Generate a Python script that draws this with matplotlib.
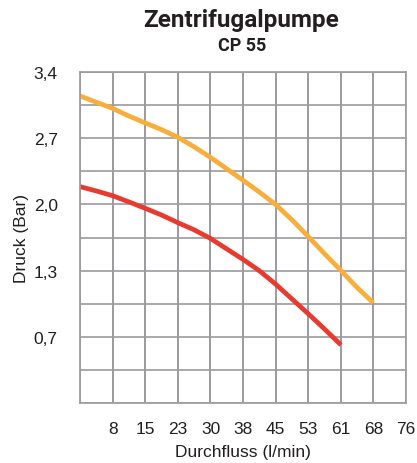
import numpy as np
import matplotlib.pyplot as plt
from matplotlib.ticker import FixedLocator

# Durchfluss (l/min) und Druck (bar)
flow_orange = [0, 3.8, 7.6, 11.4, 15.1, 18.9, 22.7, 26.5, 30.3, 34.1,
               37.9, 41.6, 45.4, 49.2, 53.0, 56.8, 60.6, 64.3, 68.1]
druck_orange = [3.20, 3.135, 3.07, 2.99, 2.92, 2.85, 2.77, 2.67, 2.56, 2.44,
                2.32, 2.20, 2.07, 1.91, 1.735, 1.555, 1.38, 1.205, 1.045]

flow_red = [0, 3.8, 7.6, 11.4, 15.1, 18.9, 22.7, 26.5, 30.3, 34.1,
            37.9, 41.6, 45.4, 49.2, 53.0, 56.8, 60.6]
druck_red = [2.255, 2.21, 2.16, 2.095, 2.03, 1.96, 1.88, 1.805, 1.715, 1.605,
             1.495, 1.38, 1.24, 1.085, 0.93, 0.77, 0.605]

x_ticks = [7.6, 15.1, 22.7, 30.3, 37.9, 45.4, 53.0, 60.6, 68.1, 75.7]
x_tick_labels = ['8', '15', '23', '30', '38', '45', '53', '61', '68', '76']
y_ticks = [0.69, 1.38, 2.07, 2.76, 3.45]
y_tick_labels = ['0,7', '1,3', '2,0', '2,7', '3,4']

plt.rcParams['font.family'] = ['Liberation Sans', 'DejaVu Sans']
txt_col = '#231f20'

fig = plt.figure(figsize=(4.17, 4.64), dpi=100)
ax = fig.add_axes([80 / 417, 1 - 404 / 464, 326 / 417, 331 / 464])

grid_col = '#9b9b9f'
ax.set_xlim(0, 75.7)
ax.set_ylim(0, 3.45)

# Gitter: 10 x 10 Felder (major + minor, damit keine Linie fehlt)
ax.xaxis.set_minor_locator(FixedLocator(np.linspace(0, 75.7, 11)))
ax.yaxis.set_minor_locator(FixedLocator(np.linspace(0, 3.45, 11)))
ax.grid(True, which='both', color=grid_col, linewidth=1.2)
ax.tick_params(which='both', length=0)
ax.set_axisbelow(True)
for s in ax.spines.values():
    s.set_color(grid_col)
    s.set_linewidth(1.2)

ax.set_xticks(x_ticks)
ax.set_xticklabels(x_tick_labels)
ax.set_yticks(y_ticks)
ax.set_yticklabels(y_tick_labels)
ax.tick_params(axis='x', pad=13, labelsize=12.5, colors=txt_col)
ax.tick_params(axis='y', pad=16, labelsize=12.5, colors=txt_col)

ax.plot(flow_orange, druck_orange, color='#F9AE3B', linewidth=3.4,
        solid_capstyle='butt', solid_joinstyle='round', clip_on=False)
ax.plot(flow_red, druck_red, color='#E83A2E', linewidth=3.4,
        solid_capstyle='butt', solid_joinstyle='round', clip_on=False)

ax.set_xlabel('Durchfluss (l/min)', fontsize=12.5, color=txt_col, labelpad=6)
ax.set_ylabel('Druck (Bar)', fontsize=12.5, color=txt_col, labelpad=3)

fig.text(241 / 417, 1 - 21 / 464, 'Zentrifugalpumpe', ha='center', va='center',
         fontsize=17.5, fontweight='bold', color=txt_col,
         family=['Roboto', 'Liberation Sans'])
fig.text(242 / 417, 1 - 46 / 464, 'CP 55', ha='center', va='center',
         fontsize=13, fontweight='bold', color=txt_col,
         family=['Roboto', 'Liberation Sans'])

fig.savefig('out.png', dpi=100)
